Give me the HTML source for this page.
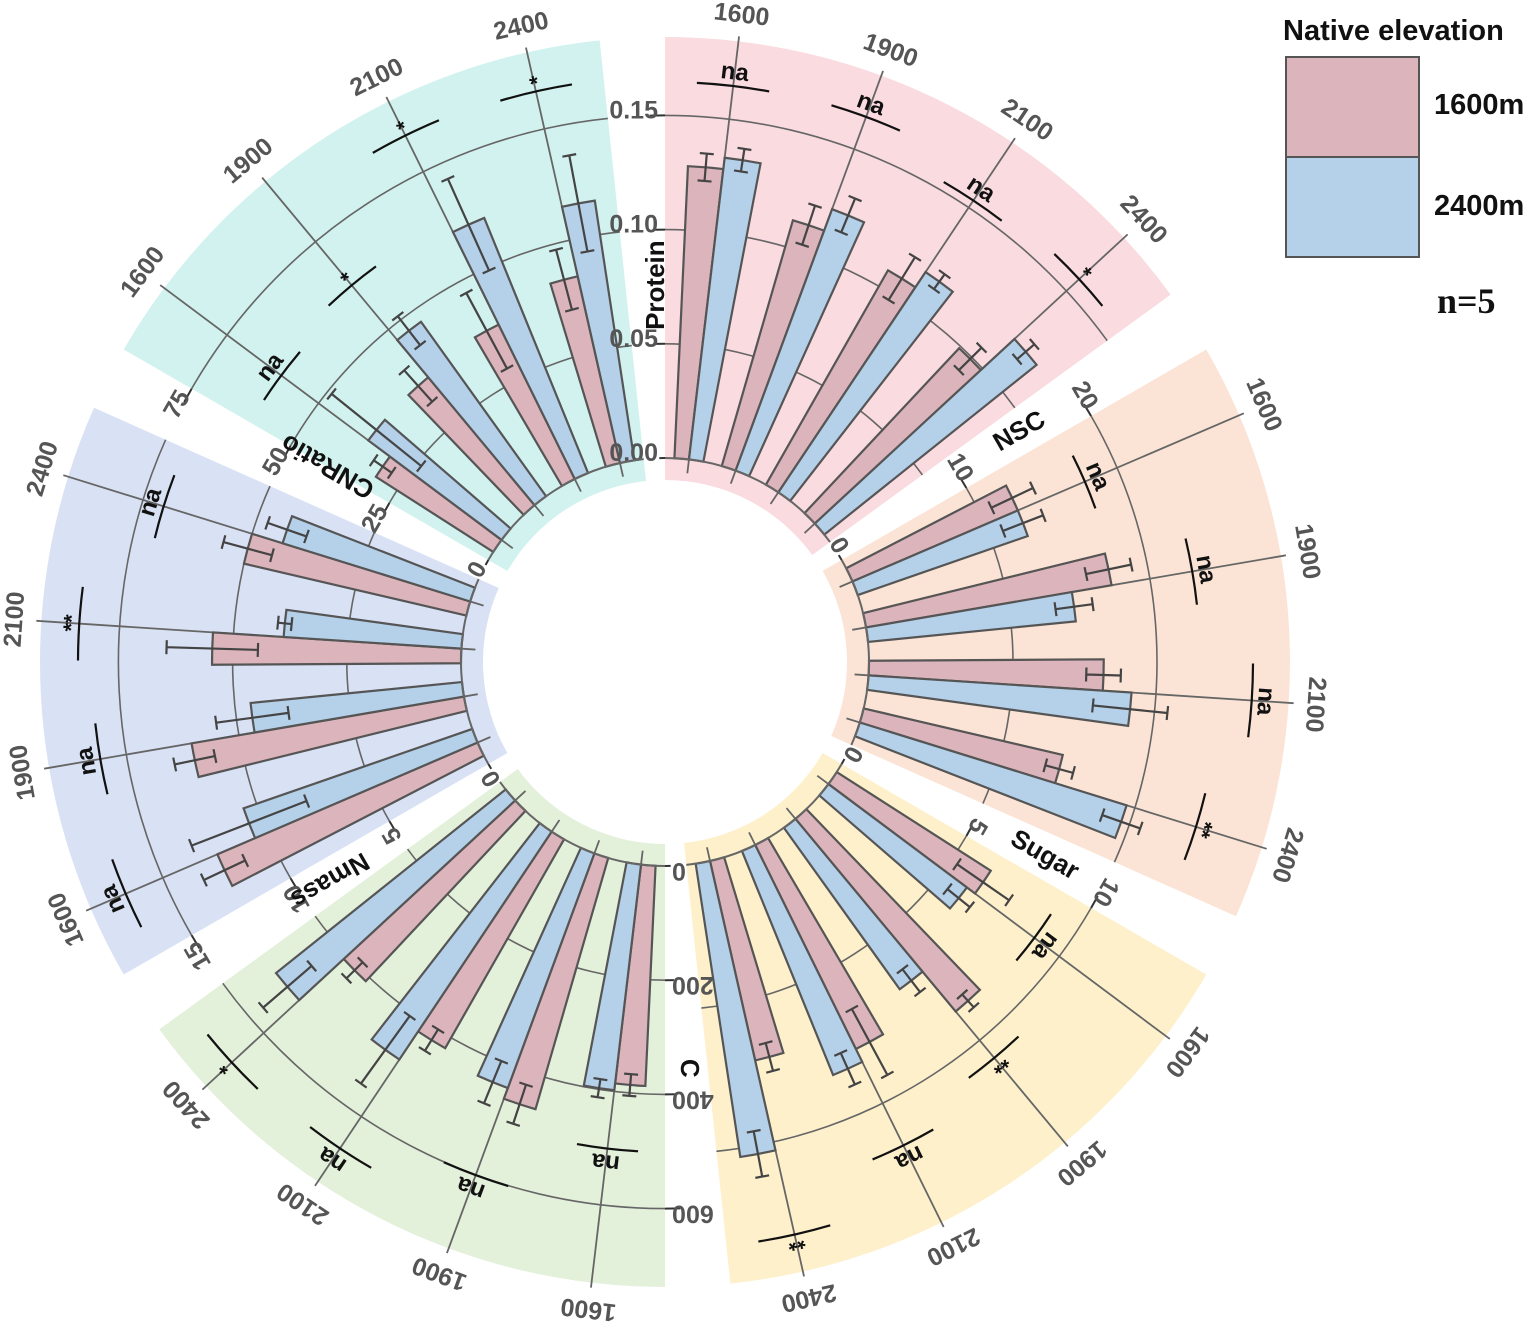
<!DOCTYPE html>
<html><head><meta charset="utf-8"><style>
html,body{margin:0;padding:0;background:#fff;}
svg{display:block;font-family:"Liberation Sans",Arial,sans-serif;}
</style></head><body>
<svg id="chart" width="1535" height="1325" viewBox="0 0 1535 1325" xmlns="http://www.w3.org/2000/svg">
<g id="layer-bg"></g>
<g id="layer-grid"></g>
<g id="layer-bars"></g>
<g id="layer-text"></g>
<g>
<text x="1283" y="40" font-size="29" font-weight="bold" fill="#111">Native elevation</text>
<rect x="1286" y="57" width="133" height="100" fill="#dcb4bb" stroke="#555" stroke-width="2"/>
<rect x="1286" y="157" width="133" height="100" fill="#b5d0e9" stroke="#555" stroke-width="2"/>
<text x="1434" y="114" font-size="29" font-weight="bold" fill="#111">1600m</text>
<text x="1434" y="215" font-size="29" font-weight="bold" fill="#111">2400m</text>
<text x="1437" y="313" font-size="36" font-weight="bold" font-family="Liberation Serif, serif" fill="#111">n=5</text>
</g>
</svg>
<script>
// ---- data ----
const sectorNames = ["Protein","NSC","Sugar","C","Nmass","CNRatio"];
const groups = ["1600","1900","2100","2400"];
const tickLabels = [["0.00","0.05","0.10","0.15"],["0","10","20"],["0","5","10"],["0","200","400","600"],["0","5","10","15"],["0","25","50","75"]];
const tickValues = [[0,0.05,0.10,0.15],[0,10,20],[0,5,10],[0,200,400,600],[0,5,10,15],[0,25,50,75]];
const pink1600m = [[0.128,0.112,0.108,0.099],[12.5,17.3,16.3,14.2],[6.35,8.7,7.9,7.1],[386,458,421,409],[12.4,12.1,10.9,10.0],[30.5,36.4,37.7,41.9]];
const pinkErr = [[0.006,0.009,0.011,0.007],[1.6,1.6,1.2,1.0],[1.1,0.3,1.3,0.5],[19,36,22,20],[1.0,0.9,2.0,1.1],[2.4,4.6,9.4,6.8]];
const blue2400m = [[0.133,0.122,0.116,0.119],[12.5,14.5,18.3,19.4],[6.0,6.9,8.4,10.3],[398,438,480,515],[10.6,9.3,7.8,8.6],[36.4,47,60.3,57.5]];
const blueErr = [[0.005,0.008,0.004,0.005],[1.5,1.3,2.6,1.4],[0.5,0.5,0.6,0.8],[16,40,73,56],[2.7,1.6,0.3,0.9],[12.6,4,11,10.7]];
const sigLabels = [["na","na","na","*"],["na","na","na","**"],["na","**","na","**"],["na","na","na","*"],["na","na","**","na"],["na","*","*","*"]];
const sigRadius = [[580,581,555,564],[457,535,588,556],[461,515,539,587],[490,547,585,590],[587,573,587,525],[479,490,587,585]];

// ---- geometry / style ----
const CX=665, CY=662, R0=204, RIN=182, ROUT=625, SPAN=54;
const sectorStart=[0,60,120,180,240,300];
const titleAngleOffset=[-1.5,-3.2,-3.2,-3.5,-3.2,0];
const titleRadius=[377,423,426,407,400,390];
const tickSpacing=[114.2,144,144,114.2,114.2,114.2];
const bgColors=["#f9dbe0","#fbe4d5","#fdf0cb","#e3f0da","#d9e1f4","#d1f2ee"];
const PINK="#dcb4bb", BLUE="#b5d0e9", EDGE="#555", GRID="#666";
const NS="http://www.w3.org/2000/svg";
const rad=d=>d*Math.PI/180;
function pt(a,r){return [CX+r*Math.sin(rad(a)), CY-r*Math.cos(rad(a))];}
function mk(tag,attrs,parent){const e=document.createElementNS(NS,tag);for(const k in attrs)e.setAttribute(k,attrs[k]);parent.appendChild(e);return e;}
function wedge(a1,a2,r1,r2){const p1=pt(a1,r1),p2=pt(a1,r2),p3=pt(a2,r2),p4=pt(a2,r1);const l=(a2-a1)>180?1:0;
return `M${p1[0]},${p1[1]}L${p2[0]},${p2[1]}A${r2},${r2} 0 ${l} 1 ${p3[0]},${p3[1]}L${p4[0]},${p4[1]}A${r1},${r1} 0 ${l} 0 ${p1[0]},${p1[1]}Z`;}
function arc(a1,a2,r){const p1=pt(a1,r),p2=pt(a2,r);return `M${p1[0]},${p1[1]}A${r},${r} 0 0 1 ${p2[0]},${p2[1]}`;}
const bg=document.getElementById('layer-bg'),grid=document.getElementById('layer-grid'),bars=document.getElementById('layer-bars'),txt=document.getElementById('layer-text');
const BW=4.1;

for(let s=0;s<6;s++){
  const st=sectorStart[s], sc=tickSpacing[s]/(tickValues[s][1]-tickValues[s][0]);
  const rv=v=>R0+v*sc;
  const sname=sectorNames[s].toLowerCase();
  const b=mk('path',{d:wedge(st,st+SPAN,RIN,ROUT),fill:bgColors[s]},bg);
  
  
  tickValues[s].forEach((tv,i)=>{
    const g=mk('path',{d:arc(st,st+SPAN,rv(tv)),fill:'none',stroke:GRID,'stroke-width':i===0?2:1.6},i===0?txt:grid);
    
    
    const t1=pt(st,rv(tv)),t2=pt(st-1.6,rv(tv));
    const tk=mk('line',{x1:t1[0],y1:t1[1],x2:t2[0],y2:t2[1],stroke:'#333','stroke-width':2},txt);
    
    
    const lp=pt(st,rv(tv));
    const tl=mk('text',{x:-7,y:3,'text-anchor':'end','font-size':25,'font-weight':'bold',fill:'#555',transform:`translate(${lp[0]},${lp[1]}) rotate(${st})`},txt);
    tl.textContent=tickLabels[s][i];
    
    
  });
  const tp=pt(st+titleAngleOffset[s],titleRadius[s]);
  const at=mk('text',{x:0,y:0,'text-anchor':'middle','dominant-baseline':'central','font-size':26,'font-weight':'bold',fill:'#111',transform:`translate(${tp[0]},${tp[1]}) rotate(${st-90})`},txt);
  at.textContent=sectorNames[s];
  
  
  for(let g=0;g<4;g++){
    const c=st+6.75+13.5*g;
    const a=pt(c,190),z=pt(c,630);
    const gl=mk('line',{x1:a[0],y1:a[1],x2:z[0],y2:z[1],stroke:GRID,'stroke-width':1.8},grid);
    
    
    const lp=pt(c,652);
    const gt=mk('text',{x:0,y:0,'text-anchor':'middle','dominant-baseline':'central','font-size':25,'font-weight':'bold',fill:'#555',transform:`translate(${lp[0]},${lp[1]}) rotate(${c})`},txt);
    gt.textContent=groups[g];
    
    
    const series=[[pink1600m[s][g],pinkErr[s][g],c-BW,c,PINK,'1600m'],[blue2400m[s][g],blueErr[s][g],c,c+BW,BLUE,'2400m']];
    series.forEach(([v,e,a1,a2,col,lab])=>{
      const bar=mk('path',{d:wedge(a1,a2,R0,rv(v)),fill:col,stroke:EDGE,'stroke-width':2.2},bars);
      
      
      const m=(a1+a2)/2, p1=pt(m,rv(v-e)), p2=pt(m,rv(v+e));
      const tx=Math.cos(rad(m))*7, ty=Math.sin(rad(m))*7;
      const ep=mk('path',{d:`M${p1[0]},${p1[1]}L${p2[0]},${p2[1]}M${p1[0]-tx},${p1[1]-ty}L${p1[0]+tx},${p1[1]+ty}M${p2[0]-tx},${p2[1]-ty}L${p2[0]+tx},${p2[1]+ty}`,fill:'none',stroke:'#444','stroke-width':2.2},bars);
      
      
    });
    const sr=sigRadius[s][g];
    const sl=mk('path',{d:arc(c-3.6,c+3.6,sr),fill:'none',stroke:'#111','stroke-width':2.2},txt);
    
    
    const sp=pt(c,sr+14);
    const lbl=sigLabels[s][g];
    const stx=mk('text',{x:0,y:lbl==='na'?0:6,'text-anchor':'middle','dominant-baseline':'central','font-size':lbl==='na'?24:22,'font-weight':'bold',fill:'#111',transform:`translate(${sp[0]},${sp[1]}) rotate(${c})`},txt);
    stx.textContent=lbl;
    
    
  }
}
</script>
</body></html>
